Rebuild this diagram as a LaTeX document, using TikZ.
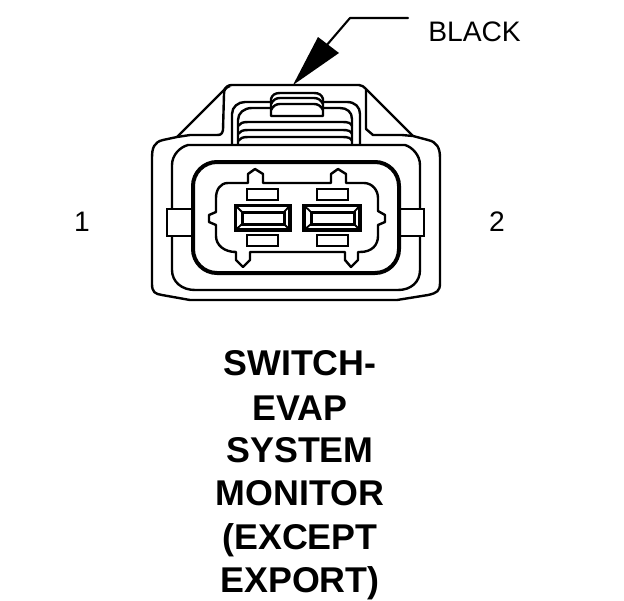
\documentclass[tikz,border=0pt]{standalone}
\usepackage{fontspec}
\setmainfont{Liberation Sans}
\tikzset{
  px/.style={x=1pt,y=-1pt},
  thin line/.style={line width=2.1pt,line join=round,line cap=round},
  heavy line/.style={line width=4pt,line join=round},
  body line/.style={line width=2.4pt,line join=round},
  lbl/.style={font=\fontsize{28.2}{30}\selectfont,anchor=base,inner sep=0pt},
  ttl/.style={font=\fontsize{35.8}{38}\bfseries\selectfont,anchor=base,inner sep=0pt},
}
\begin{document}
\begin{tikzpicture}[px]
\useasboundingbox (0,0) rectangle (624,600);
\fill[white] (0,0) rectangle (624,600);
% leader and arrowhead
\node[lbl] (black) at (474.5,41) {BLACK};
\coordinate (leadA) at (408,18);
\coordinate (leadB) at (350,18);
\coordinate (leadC) at (326,46);
\draw[thin line] (leadA) -- (leadB) -- (leadC);
\fill (293,85) -- (318,37) -- (339,53) -- cycle;
% outer housing
\draw[body line] (177,137) -- (224,90) .. controls (226,87) and (228,85) .. (232,85) -- (359,85)
  .. controls (362,85) and (364,87) .. (366,89) -- (413,136);
\draw[body line] (230,86) .. controls (225,88) and (224,90) .. (224,94) -- (223,130)
  .. controls (222,134) and (221,135) .. (217,135) -- (190,135) -- (177,137)
  -- (163,140) .. controls (154,142) and (152,148) .. (152,158) -- (152,284)
  .. controls (152,292) and (155,294) .. (162,295) -- (190,300) -- (397,300) -- (428,295)
  .. controls (437,293) and (440,291) .. (440,283) -- (440,158)
  .. controls (440,148) and (437,142) .. (428,140) -- (413,136) -- (402,135) -- (373,135) -- (366,129) -- (366,90);
% second contour
\draw[body line] (188,145) -- (405,145) .. controls (412,147) and (420,155) .. (420,165)
  -- (420,270) .. controls (420,282) and (411,290) .. (398,290) -- (195,290)
  .. controls (182,290) and (172,282) .. (172,270) -- (172,165)
  .. controls (172,155) and (180,147) .. (188,145) -- cycle;
% top ribs
\draw[body line] (232,145) -- (232,114) .. controls (232,107) and (238,102) .. (245,102) -- (347,102)
  .. controls (355,102) and (360,107) .. (360,114) -- (360,145);
\draw[body line] (238,145) -- (238,120) .. controls (238,113) and (244,108) .. (252,108) -- (271,108);
\draw[body line] (323,108) -- (340,108) .. controls (347,108) and (352,112) .. (352,119) -- (352,145);
\draw[body line] (238,126) .. controls (240,123) and (243,122) .. (248,122) -- (343,122) .. controls (348,122) and (351,123) .. (352,126);
\draw[body line] (238,134) .. controls (240,131) and (243,130) .. (248,130) -- (343,130) .. controls (348,130) and (351,131) .. (352,134);
\draw[body line] (238,141) .. controls (240,138) and (243,137) .. (248,137) -- (343,137) .. controls (348,137) and (351,138) .. (352,141);
% handle
\draw[body line,fill=white] (271,116) -- (271,99) .. controls (272,95) and (275,93) .. (280,93) -- (314,93)
  .. controls (319,93) and (322,95) .. (323,99) -- (323,116) -- cycle;
\draw[body line] (271,104) .. controls (273,100) and (276,98) .. (280,98) -- (314,98) .. controls (318,98) and (321,100) .. (323,104);
\draw[body line] (271,110) .. controls (273,106) and (276,104) .. (280,104) -- (314,104) .. controls (318,104) and (321,106) .. (323,110);
% side tabs
\draw[line width=2.8pt,fill=white] (192,209) -- (167,209) -- (167,236) -- (192,236);
\draw[line width=2.8pt,fill=white] (400,209) -- (424,209) -- (424,236) -- (400,236);
% thick socket
\draw[heavy line,rounded corners=24pt,fill=white] (193,162) rectangle (399,273);
% inner outline with keys
\draw[body line] (228,183) -- (248,183) -- (248,174) -- (255,169) -- (263,174) -- (263,183)
  -- (331,183) -- (331,174) -- (338,169) -- (346,174) -- (346,183) -- (364,183)
  .. controls (372,183) and (378,190) .. (378,198) -- (378,211) -- (385,215) -- (385,222) -- (378,225)
  -- (378,236) .. controls (378,245) and (372,252) .. (360,252) -- (358,252) -- (358,260) -- (351,267) -- (345,260) -- (345,252)
  -- (250,252) -- (250,260) -- (243,267) -- (236,260) -- (236,252)
  .. controls (224,252) and (216,245) .. (216,236) -- (216,225) -- (209,222) -- (209,215) -- (216,212)
  -- (216,198) .. controls (216,190) and (220,183) .. (228,183) -- cycle;
% small slots
\foreach \xa/\xb/\ya/\yb in {247/278/189/200,317/348/189/200,247/278/235/246,317/348/235/246}
  \draw[line width=2.8pt] (\xa,\ya) rectangle (\xb,\yb);
% terminals
\foreach \xa/\xb/\xc/\xd in {235.5/290/242/284,304/360/311/354}{
  \draw[line width=3.6pt] (\xa,205.5) rectangle (\xb,230);
  \draw[line width=3pt] (\xc,212) rectangle (\xd,224);
  \draw[line width=1.8pt] (\xa,205.5) -- (\xc,212) (\xb,205.5) -- (\xd,212) (\xa,230) -- (\xc,224) (\xb,230) -- (\xd,224);
}
% labels
\node[lbl] (one) at (82,231) {1};
\node[lbl] (two) at (497,231) {2};
\node[ttl] (t1) at (300,375) {SWITCH-};
\node[ttl] (t2) at (300,420) {EVAP};
\node[ttl] (t3) at (300,462) {SYSTEM};
\node[ttl] (t4) at (300,505) {MONITOR};
\node[ttl] (t5) at (300,549) {(EXCEPT};
\node[ttl] (t6) at (300,592) {EXPORT)};
\end{tikzpicture}
\end{document}
